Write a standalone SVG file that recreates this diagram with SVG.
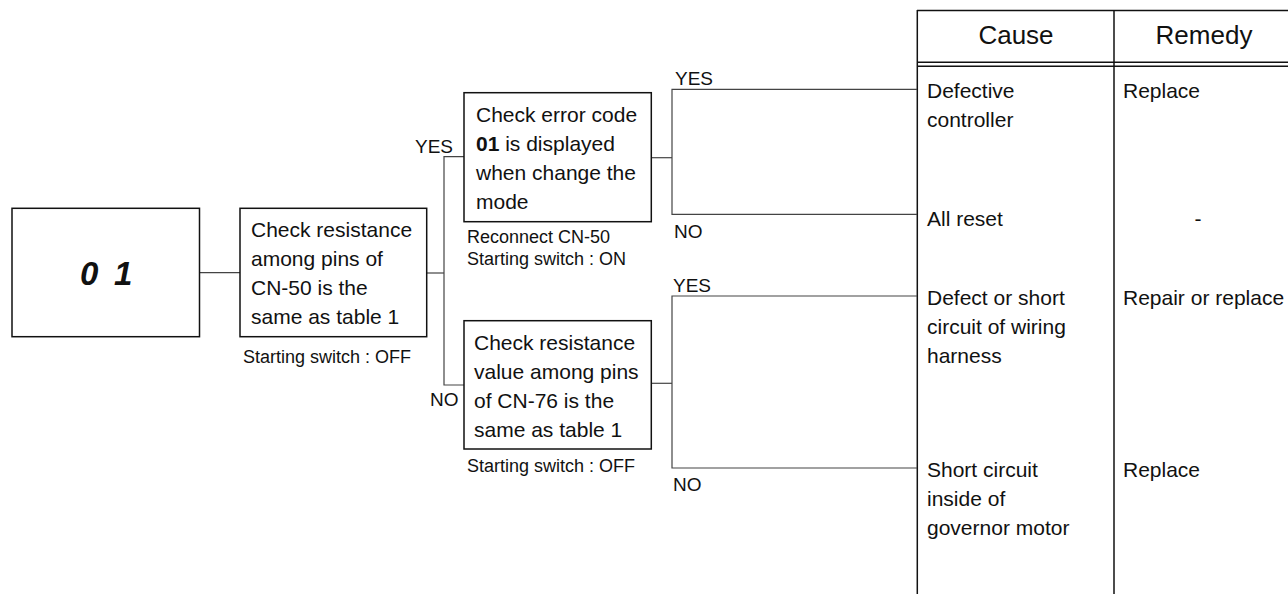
<svg xmlns="http://www.w3.org/2000/svg" width="1288" height="594" viewBox="0 0 1288 594">
  <style>
    .box { fill: #fff; stroke: #111; stroke-width: 1.5; }
    .wire { fill: none; stroke: #444; stroke-width: 1.2; }
    .grid { fill: none; stroke: #111; stroke-width: 1.5; }
    text { font-family: "Liberation Sans", Arial, sans-serif; fill: #111; }
    .body { font-size: 21px; }
    .note { font-size: 18px; }
    .tag { font-size: 19px; }
    .head { font-size: 26px; text-anchor: middle; }
    .cell { font-size: 21px; }
  </style>
  <rect width="1288" height="594" fill="#fff"/>

  <!-- cause / remedy table -->
  <g id="table">
    <line class="grid" x1="917" y1="10.5" x2="1288" y2="10.5"/>
    <line class="grid" x1="917" y1="62.3" x2="1288" y2="62.3"/>
    <line class="grid" x1="917" y1="66.3" x2="1288" y2="66.3"/>
    <line class="grid" x1="917.3" y1="10" x2="917.3" y2="594"/>
    <line class="grid" x1="1114" y1="10" x2="1114" y2="594"/>
    <text class="head" x="1016" y="44">Cause</text>
    <text class="head" x="1204" y="44">Remedy</text>
    <text class="cell" x="927" y="98">Defective</text>
    <text class="cell" x="927" y="127">controller</text>
    <text class="cell" x="927" y="226">All reset</text>
    <text class="cell" x="927" y="305">Defect or short</text>
    <text class="cell" x="927" y="334">circuit of wiring</text>
    <text class="cell" x="927" y="363">harness</text>
    <text class="cell" x="927" y="477">Short circuit</text>
    <text class="cell" x="927" y="506">inside of</text>
    <text class="cell" x="927" y="535">governor motor</text>
    <text class="cell" x="1123" y="98">Replace</text>
    <text class="cell" x="1198" y="226" text-anchor="middle">-</text>
    <text class="cell" x="1123" y="305">Repair or replace</text>
    <text class="cell" x="1123" y="477">Replace</text>
  </g>

  <!-- connectors -->
  <g id="connectors">
    <line class="wire" x1="199" y1="272.7" x2="240" y2="272.7"/>
    <polyline class="wire" points="427,273 444,273"/>
    <polyline class="wire" points="464,156.7 444,156.7 444,385 464,385"/>
    <polyline class="wire" points="651,157.7 672,157.7"/>
    <polyline class="wire" points="917,89.3 672,89.3 672,214.3 917,214.3"/>
    <polyline class="wire" points="651,383.3 672,383.3"/>
    <polyline class="wire" points="917,296 672,296 672,468 917,468"/>
  </g>

  <!-- branch labels -->
  <g id="labels">
    <text class="tag" x="415" y="153">YES</text>
    <text class="tag" x="430" y="406">NO</text>
    <text class="tag" x="675" y="85">YES</text>
    <text class="tag" x="674" y="238">NO</text>
    <text class="tag" x="673" y="292">YES</text>
    <text class="tag" x="673" y="491">NO</text>
  </g>

  <!-- error display -->
  <g id="display">
    <rect class="box" x="12" y="208.3" width="187.5" height="128.4"/>
    <text x="80" y="285" font-size="33" font-weight="bold" font-style="italic"><tspan x="80">0</tspan><tspan x="114">1</tspan></text>
  </g>

  <!-- first check -->
  <g id="check-cn50">
    <rect class="box" x="240" y="208.3" width="186.7" height="128.4"/>
    <text class="body" x="251">
      <tspan x="251" y="237">Check resistance</tspan>
      <tspan x="251" y="266">among pins of</tspan>
      <tspan x="251" y="295">CN-50 is the</tspan>
      <tspan x="251" y="324">same as table 1</tspan>
    </text>
    <text class="note" x="243" y="363">Starting switch : OFF</text>
  </g>

  <!-- error code check -->
  <g id="check-code">
    <rect class="box" x="464" y="92.7" width="187.3" height="129"/>
    <text class="body" x="476">
      <tspan x="476" y="121.7">Check error code</tspan>
      <tspan x="476" y="150.7"><tspan font-weight="bold">01</tspan> is displayed</tspan>
      <tspan x="476" y="179.7">when change the</tspan>
      <tspan x="476" y="208.7">mode</tspan>
    </text>
    <text class="note" x="467" y="243.3">Reconnect CN-50</text>
    <text class="note" x="467" y="265">Starting switch : ON</text>
  </g>

  <!-- harness check -->
  <g id="check-cn76">
    <rect class="box" x="464" y="320.7" width="187.3" height="128.3"/>
    <text class="body" x="474">
      <tspan x="474" y="350">Check resistance</tspan>
      <tspan x="474" y="379">value among pins</tspan>
      <tspan x="474" y="408">of CN-76 is the</tspan>
      <tspan x="474" y="437">same as table 1</tspan>
    </text>
    <text class="note" x="467" y="472">Starting switch : OFF</text>
  </g>
</svg>
